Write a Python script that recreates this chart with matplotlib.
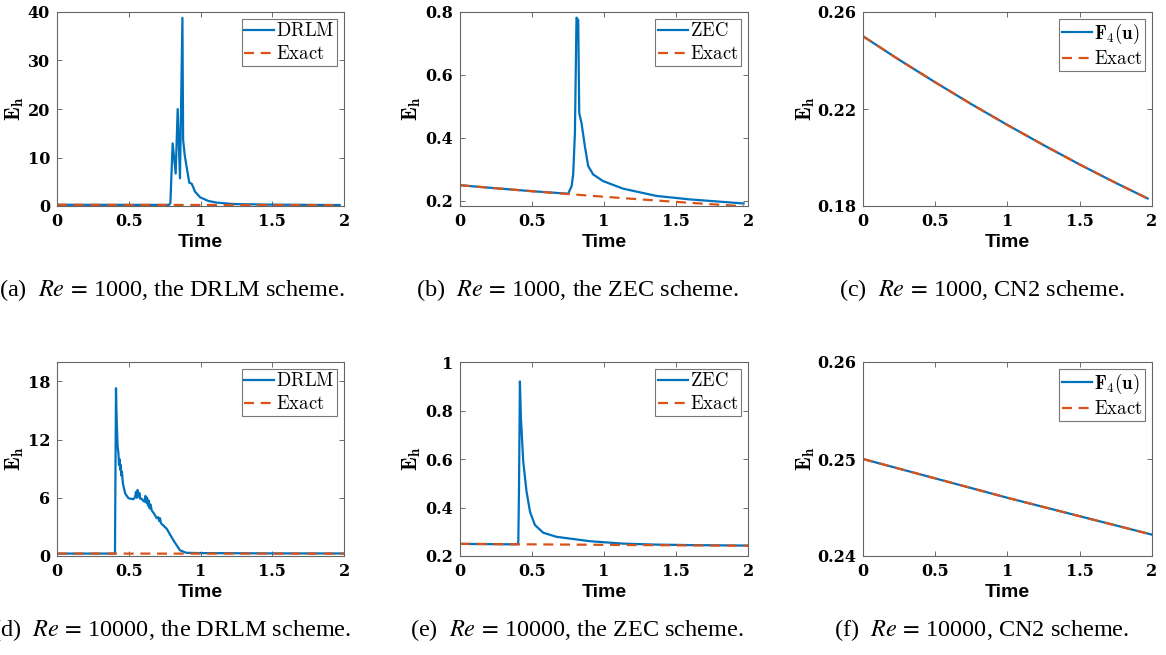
import matplotlib
matplotlib.use("Agg")
import matplotlib.pyplot as plt
from matplotlib.ticker import FuncFormatter

plt.rcParams["mathtext.fontset"] = "cm"

BLUE = "#0072BD"
ORANGE = "#D95319"

# ---- Re = 1000 ----
t_exact_1000 = [0, 0.25, 0.5, 0.75, 1.0, 1.25, 1.5, 1.75, 1.97]
e_exact_1000 = [0.2500, 0.2403, 0.2310, 0.2220, 0.2134, 0.2051, 0.1971, 0.1895, 0.1831]

t_drlm_1000 = [0, 0.5, 0.78, 0.790, 0.806, 0.827, 0.841, 0.857, 0.874, 0.879,
               0.890, 0.903, 0.922, 0.939, 0.962, 0.997, 1.055, 1.113, 1.23, 1.5, 1.97]
e_drlm_1000 = [0.25, 0.23, 0.22, 0.6, 12.9, 6.7, 20.0, 5.7, 38.8, 13.6,
               10.5, 8.1, 4.8, 4.6, 2.95, 1.8, 1.03, 0.7, 0.4, 0.28, 0.2]

t_zec_1000 = [0, 0.25, 0.5, 0.751, 0.775, 0.786, 0.798, 0.809, 0.821, 0.828,
              0.844, 0.867, 0.89, 0.925, 0.994, 1.133, 1.364, 1.595, 1.827, 1.97]
e_zec_1000 = [0.250, 0.2403, 0.2310, 0.223, 0.247, 0.284, 0.416, 0.782, 0.774, 0.479,
              0.447, 0.374, 0.311, 0.284, 0.263, 0.239, 0.216, 0.205, 0.197, 0.192]

t_cn2_1000 = [0, 0.25, 0.5, 0.75, 1.0, 1.25, 1.5, 1.75, 1.97]
e_cn2_1000 = [0.2500, 0.2403, 0.2310, 0.2220, 0.2134, 0.2051, 0.1971, 0.1895, 0.1831]

# ---- Re = 10000 ----
t_exact_10000 = [0, 0.5, 1.0, 1.5, 2.0]
e_exact_10000 = [0.2500, 0.2480, 0.2460, 0.2441, 0.2422]

t_drlm_10000 = [0, 0.2, 0.404, 0.411, 0.416, 0.422, 0.428, 0.432, 0.436, 0.440,
                0.444, 0.448, 0.452, 0.46, 0.475, 0.498, 0.533, 0.545, 0.550, 0.556,
                0.562, 0.568, 0.574, 0.58, 0.59, 0.60, 0.61, 0.616, 0.622, 0.628,
                0.634, 0.640, 0.646, 0.652, 0.66, 0.675, 0.695, 0.705, 0.712, 0.718,
                0.724, 0.73, 0.765, 0.811, 0.857, 0.90, 1.0, 1.5, 2.0]
e_drlm_10000 = [0.25, 0.25, 0.25, 17.3, 14.0, 11.4, 10.6, 9.4, 10.0, 8.9,
                9.4, 8.3, 8.7, 7.4, 6.45, 5.95, 5.85, 6.1, 6.6, 6.0,
                6.8, 6.1, 6.5, 5.9, 5.9, 5.7, 5.6, 6.2, 5.5, 6.0,
                5.2, 5.7, 4.9, 5.3, 4.7, 4.4, 3.9, 4.0, 3.6, 3.9,
                3.4, 3.3, 2.8, 1.62, 0.59, 0.33, 0.3, 0.27, 0.26]

t_zec_10000 = [0, 0.2, 0.40, 0.405, 0.41, 0.416, 0.423, 0.439, 0.462, 0.486,
               0.52, 0.578, 0.671, 0.902, 1.133, 1.364, 1.595, 2.0]
e_zec_10000 = [0.250, 0.249, 0.248, 0.258, 0.494, 0.92, 0.77, 0.59, 0.466, 0.383,
               0.328, 0.296, 0.279, 0.261, 0.251, 0.247, 0.245, 0.243]

t_cn2_10000 = [0, 0.5, 1.0, 1.5, 2.0]
e_cn2_10000 = [0.2500, 0.2480, 0.2460, 0.2441, 0.2422]

panels = [
    # (t, E, label, t_exact, E_exact, ylim, yticks, caption)
    (t_drlm_1000, e_drlm_1000, "DRLM", t_exact_1000, e_exact_1000,
     (0, 40), [0, 10, 20, 30, 40], "(a)  $Re\\,{=}\\,$1000, the DRLM scheme."),
    (t_zec_1000, e_zec_1000, "ZEC", t_exact_1000, e_exact_1000,
     (0.184, 0.8), [0.2, 0.4, 0.6, 0.8], "(b)  $Re\\,{=}\\,$1000, the ZEC scheme."),
    (t_cn2_1000, e_cn2_1000, "F4", t_exact_1000, e_exact_1000,
     (0.18, 0.26), [0.18, 0.22, 0.26], "(c)  $Re\\,{=}\\,$1000, CN2 scheme."),
    (t_drlm_10000, e_drlm_10000, "DRLM", t_exact_10000, e_exact_10000,
     (0, 20), [0, 6, 12, 18], "(d)  $Re\\,{=}\\,$10000, the DRLM scheme."),
    (t_zec_10000, e_zec_10000, "ZEC", t_exact_10000, e_exact_10000,
     (0.2, 1.0), [0.2, 0.4, 0.6, 0.8, 1.0], "(e)  $Re\\,{=}\\,$10000, the ZEC scheme."),
    (t_cn2_10000, e_cn2_10000, "F4", t_exact_10000, e_exact_10000,
     (0.24, 0.26), [0.24, 0.25, 0.26], "(f)  $Re\\,{=}\\,$10000, CN2 scheme."),
]

W, H = 1166, 655
fig = plt.figure(figsize=(W / 100, H / 100), dpi=100)

col_left = [57, 460, 863]
col_width = [287, 288, 289]
row_top = [12, 362]
row_height = 194
ylab_x = [15, 412, 806]
cap_x = [172, 577, 982]
cap_y = [290, 630]

num_fmt = FuncFormatter(lambda v, pos: "%g" % v)

for i, (t, e, name, te, ee, ylim, yticks, caption) in enumerate(panels):
    r, c = divmod(i, 3)
    ax = fig.add_axes([col_left[c] / W, 1 - (row_top[r] + row_height) / H,
                       col_width[c] / W, row_height / H])

    if name == "F4":
        lab = r"$\mathbf{F}_4(\mathbf{u})$"
    else:
        lab = r"$\mathrm{%s}$" % name
    ax.plot(t, e, color=BLUE, lw=1.6, label=lab)
    ax.plot(te, ee, color=ORANGE, lw=1.6, linestyle=(0, (4.5, 3)),
            label=r"$\mathrm{Exact}$")

    ax.set_xlim(0, 2)
    ax.set_ylim(*ylim)
    ax.set_xticks([0, 0.5, 1, 1.5, 2])
    ax.set_yticks(yticks)
    ax.xaxis.set_major_formatter(num_fmt)
    ax.yaxis.set_major_formatter(num_fmt)
    ax.tick_params(direction="in", length=3.5, width=0.6, color="#555555",
                   top=True, right=True, labelsize=11.5, pad=5)
    for lbl in ax.get_xticklabels() + ax.get_yticklabels():
        lbl.set_fontfamily("DejaVu Serif")
        lbl.set_fontweight("bold")
    for sp in ax.spines.values():
        sp.set_color("#666666")
        sp.set_linewidth(0.8)

    ax.set_xlabel("Time", fontfamily="Liberation Sans", fontweight="bold",
                  fontsize=14, labelpad=3)
    ax.set_ylabel(r"$\mathbf{E_h}$", fontsize=15)
    ax.yaxis.set_label_coords((ylab_x[c] - col_left[c]) / col_width[c], 0.5)
    ax.yaxis.label.set_verticalalignment("center")

    leg = ax.legend(loc="upper right", fontsize=13.5, handlelength=1.6,
                    handletextpad=0.1, borderpad=0.15, labelspacing=0.2,
                    borderaxespad=0.35, fancybox=False, framealpha=1)
    leg.get_frame().set_edgecolor("#777777")
    leg.get_frame().set_linewidth(0.8)

    fig.text(cap_x[c] / W, 1 - cap_y[r] / H, caption, ha="center", va="center",
             fontfamily="Liberation Serif", fontsize=17.5, math_fontfamily="stix")

fig.savefig("out.png", dpi=100)
